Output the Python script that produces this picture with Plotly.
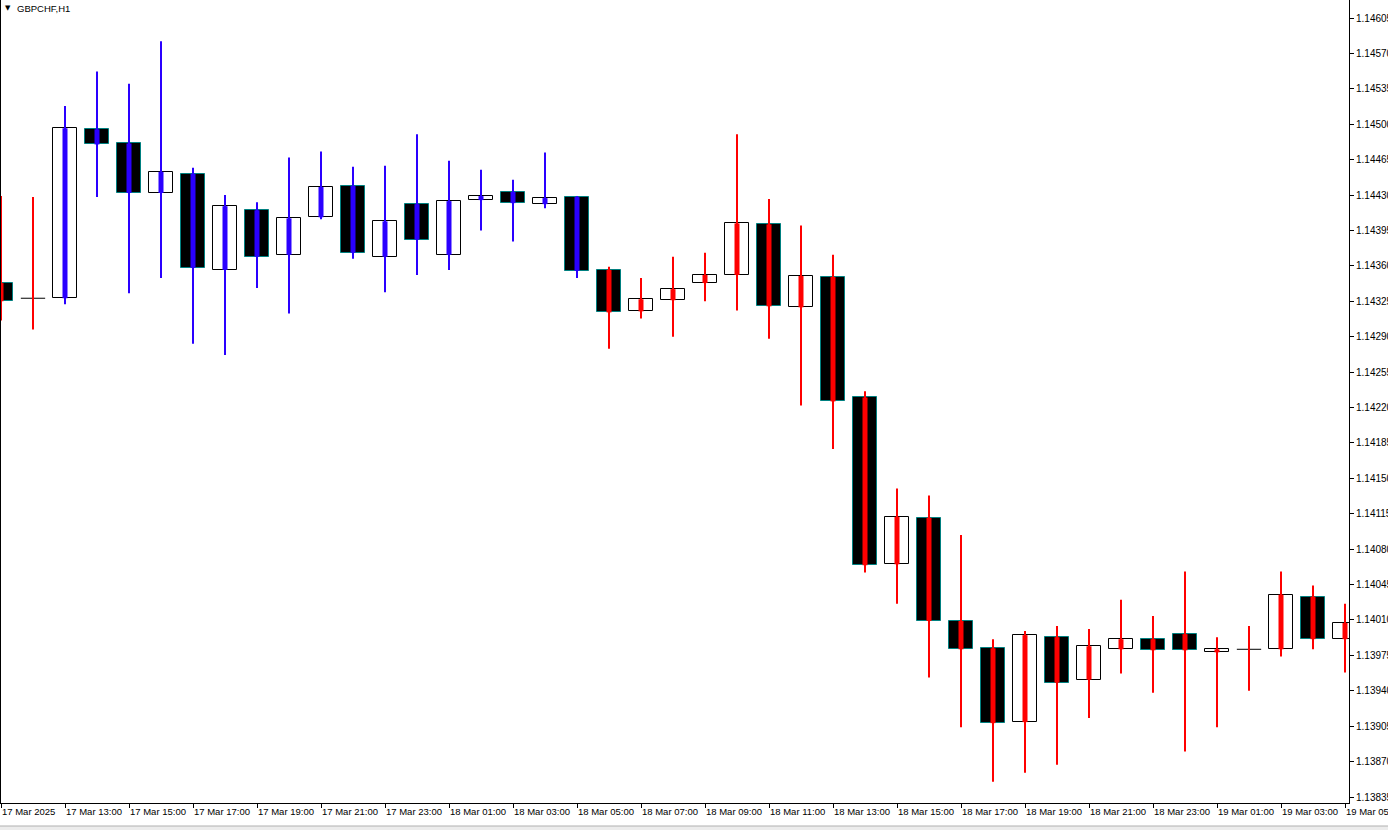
import plotly.graph_objects as go

# ---------------- data ----------------
x_tick_idx = [0, 2, 4, 6, 8, 10, 12, 14, 16, 18, 20, 22, 24, 26, 28, 30, 32, 34, 36, 38, 40, 42]
x_tick_text = ["17 Mar 2025", "17 Mar 13:00", "17 Mar 15:00", "17 Mar 17:00", "17 Mar 19:00",
               "17 Mar 21:00", "17 Mar 23:00", "18 Mar 01:00", "18 Mar 03:00", "18 Mar 05:00",
               "18 Mar 07:00", "18 Mar 09:00", "18 Mar 11:00", "18 Mar 13:00", "18 Mar 15:00",
               "18 Mar 17:00", "18 Mar 19:00", "18 Mar 21:00", "18 Mar 23:00", "19 Mar 01:00",
               "19 Mar 03:00", "19 Mar 05:00"]

y_ticks = [1.13835, 1.13870, 1.13905, 1.13940, 1.13975, 1.14010, 1.14045, 1.14080, 1.14115,
           1.14150, 1.14185, 1.14220, 1.14255, 1.14290, 1.14325, 1.14360, 1.14395, 1.14430,
           1.14465, 1.14500, 1.14535, 1.14570, 1.14605]

open_ = [1.14343, 1.14328, 1.14328, 1.14495, 1.14481, 1.14432, 1.14451, 1.14356, 1.14415, 1.14371,
         1.14408, 1.14439, 1.14369, 1.14421, 1.14371, 1.14425, 1.14433, 1.14421, 1.14428, 1.14356,
         1.14315, 1.14326, 1.14343, 1.14351, 1.14401, 1.14319, 1.14349, 1.14230, 1.14065, 1.14111,
         1.14009, 1.13982, 1.13909, 1.13993, 1.13951, 1.13981, 1.13991, 1.13996, 1.13978, 1.13981,
         1.13981, 1.14033, 1.13991]
high = [1.14429, 1.14428, 1.14518, 1.14552, 1.14540, 1.14582, 1.14457, 1.14430, 1.14423, 1.14467,
        1.14473, 1.14458, 1.14459, 1.14490, 1.14464, 1.14455, 1.14445, 1.14472, 1.14429, 1.14359,
        1.14348, 1.14369, 1.14373, 1.14490, 1.14426, 1.14400, 1.14371, 1.14236, 1.14140, 1.14133,
        1.14094, 1.13991, 1.13999, 1.14004, 1.14001, 1.14030, 1.14014, 1.14058, 1.13993, 1.14004,
        1.14058, 1.14044, 1.14026]
low = [1.14306, 1.14297, 1.14322, 1.14428, 1.14333, 1.14348, 1.14283, 1.14272, 1.14338, 1.14313,
       1.14406, 1.14367, 1.14334, 1.14351, 1.14356, 1.14395, 1.14384, 1.14417, 1.14348, 1.14278,
       1.14308, 1.14290, 1.14325, 1.14316, 1.14288, 1.14222, 1.14179, 1.14057, 1.14026, 1.13953,
       1.13904, 1.13850, 1.13859, 1.13867, 1.13913, 1.13957, 1.13938, 1.13880, 1.13904, 1.13940,
       1.13974, 1.13981, 1.13958]
close = [1.14325, 1.14328, 1.14496, 1.14480, 1.14432, 1.14453, 1.14358, 1.14419, 1.14369, 1.14407,
         1.14438, 1.14373, 1.14404, 1.14386, 1.14424, 1.14429, 1.14422, 1.14427, 1.14355, 1.14314,
         1.14327, 1.14337, 1.14351, 1.14402, 1.14320, 1.14350, 1.14226, 1.14064, 1.14112, 1.14009,
         1.13981, 1.13908, 1.13995, 1.13948, 1.13984, 1.13991, 1.13980, 1.13980, 1.13981, 1.13981,
         1.14035, 1.13991, 1.14007]
# indicator colour drawn through each candle: R = red, B = blue
ind_state = ["R", "R", "B", "B", "B", "B", "B", "B", "B", "B",
             "B", "B", "B", "B", "B", "B", "B", "B", "B", "R",
             "R", "R", "R", "R", "R", "R", "R", "R", "R", "R",
             "R", "R", "R", "R", "R", "R", "R", "R", "R", "R",
             "R", "R", "R"]

# ---------------- style ----------------
RED = "#ff0000"
BLUE = "#2a00ff"
TEAL = "#008080"
BODY_W = 0.76
FONT = "Liberation Sans, Arial, sans-serif"

idx = list(range(len(open_)))

fig = go.Figure()

# candle bodies
b_x, b_base, b_h, b_fill, b_line = [], [], [], [], []
d_x, d_y = [], []
for i in idx:
    o, c = open_[i], close[i]
    if abs(c - o) < 1e-9:
        d_x += [i - BODY_W / 2, i + BODY_W / 2, None]
        d_y += [o, o, None]
        continue
    b_x.append(i)
    b_base.append(min(o, c))
    b_h.append(abs(c - o))
    if c > o:
        b_fill.append("#ffffff")
        b_line.append("#000000")
    else:
        b_fill.append("#000000")
        b_line.append(TEAL)

fig.add_trace(go.Bar(x=b_x, y=b_h, base=b_base, width=BODY_W,
                     marker=dict(color=b_fill, line=dict(color=b_line, width=1)),
                     hoverinfo="skip", showlegend=False))
fig.add_trace(go.Scatter(x=d_x, y=d_y, mode="lines", line=dict(color="#000000", width=1),
                         hoverinfo="skip", showlegend=False))

# indicator wicks (thin high-low, thick open-close)
for state, col in (("B", BLUE), ("R", RED)):
    wx, wy, tx, ty = [], [], [], []
    for i in idx:
        if ind_state[i] != state:
            continue
        wx += [i, i, None]
        wy += [low[i], high[i], None]
        if abs(close[i] - open_[i]) > 1e-9:
            tx += [i, i, None]
            ty += [open_[i], close[i], None]
    fig.add_trace(go.Scatter(x=wx, y=wy, mode="lines", line=dict(color=col, width=2),
                             hoverinfo="skip", showlegend=False))
    fig.add_trace(go.Scatter(x=tx, y=ty, mode="lines", line=dict(color=col, width=5),
                             hoverinfo="skip", showlegend=False))

W, H = 1388, 830
ML, MR, MT, MB = 1, 39, 0, 27
plot_h = H - MT - MB

fig.update_layout(
    width=W, height=H,
    margin=dict(l=ML, r=MR, t=MT, b=MB, pad=0),
    paper_bgcolor="#ffffff", plot_bgcolor="#ffffff",
    barmode="overlay", bargap=0,
    showlegend=False,
    font=dict(family=FONT, size=10, color="#000000"),
    xaxis=dict(range=[0, 42.125], showgrid=False, zeroline=False,
               showline=True, linecolor="#000000", linewidth=1,
               tickmode="array", tickvals=x_tick_idx, ticktext=x_tick_text,
               ticks="outside", ticklen=4, tickcolor="#000000", tickwidth=1,
               ticklabelposition="outside right", tickangle=0, ticklabeloverflow="allow",
               tickfont=dict(family=FONT, size=9.5, color="#000000"),
               automargin=False, fixedrange=True),
    yaxis=dict(range=[1.1382907, 1.1462279], side="right", showgrid=False, zeroline=False,
               showline=True, linecolor="#000000", linewidth=1, mirror=True,
               tickmode="array", tickvals=y_ticks, ticktext=[f"{v:.5f}" for v in y_ticks],
               ticks="outside", ticklen=4, tickcolor="#000000", tickwidth=1,
               ticklabeloverflow="allow",
               tickfont=dict(family=FONT, size=10, color="#000000"),
               automargin=False, fixedrange=True),
    shapes=[
        dict(type="rect", xref="paper", yref="paper", x0=-0.01, x1=1.05,
             y0=(plot_h - (H - MT)) / plot_h, y1=(plot_h - 826) / plot_h,
             fillcolor="#ececec", line=dict(width=0), layer="above"),
        dict(type="line", xref="paper", yref="paper", x0=-0.01, x1=1.05,
             y0=(plot_h - 826) / plot_h, y1=(plot_h - 826) / plot_h,
             line=dict(color="#b0b0b0", width=1), layer="above"),
    ],
    annotations=[
        dict(text="▼", xref="paper", yref="paper", x=(3 - ML) / (W - ML - MR), y=(plot_h - 8) / plot_h,
             xanchor="left", yanchor="middle", showarrow=False,
             font=dict(family="DejaVu Sans", size=7, color="#000000")),
        dict(text="GBPCHF,H1", xref="paper", yref="paper", x=(15 - ML) / (W - ML - MR),
             y=(plot_h - 8) / plot_h, xanchor="left", yanchor="middle", showarrow=False,
             font=dict(family=FONT, size=9.5, color="#000000")),
    ],
)

fig.write_html(
    "out.html",
    config={"displayModeBar": False},
    post_script="document.body.style.margin='0';document.body.style.overflow='hidden';",
)
